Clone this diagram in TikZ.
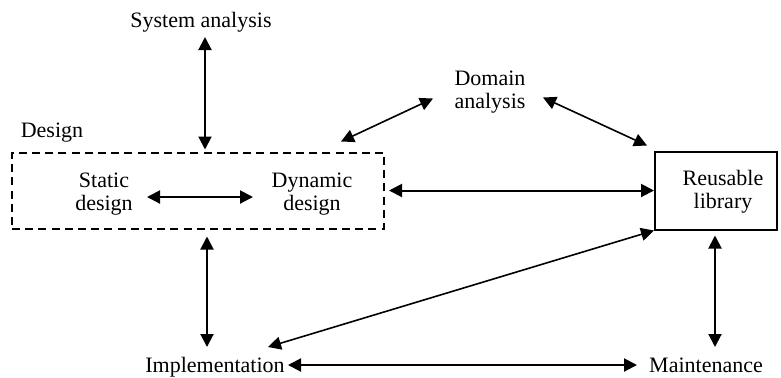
\documentclass[tikz,border=0pt]{standalone}
\usepackage{fontspec}
\setmainfont{Liberation Serif}
\usetikzlibrary{arrows.meta}
\begin{document}
\begin{tikzpicture}[x=0.5pt,y=-0.5pt,
  font=\fontsize{11}{11.5}\selectfont,
  lbl/.style={inner sep=0pt, anchor=base},
  mlbl/.style={inner sep=0pt, align=center},
  arr/.style={{Triangle[length=6.5pt,width=6.5pt]}-{Triangle[length=6.5pt,width=6.5pt]}, line width=1pt},
  darr/.style={arr, line width=0.8pt},
  dashbox/.style={draw, dashed, dash pattern=on 4pt off 2.6pt, line width=1pt, inner sep=0pt, minimum width=186pt, minimum height=38pt},
  libbox/.style={draw, line width=1pt, inner sep=0pt, minimum width=61pt, minimum height=39pt}]
\useasboundingbox (0,0) rectangle (781,377);

\node[lbl] (sys) at (201,27) {System analysis};
\node[lbl] (dlabel) at (52,137) {Design};
\node[dashbox] (designbox) at (198,190.5) {};
\node[mlbl] (static) at (104,194) {Static\\design};
\node[mlbl] (dynamic) at (312,194) {Dynamic\\design};
\node[mlbl] (domain) at (490,92) {Domain\\analysis};
\node[libbox] (lib) at (716,190.5) {};
\node[mlbl] (libtext) at (723,192) {Reusable\\library};
\node[lbl] (impl) at (215,372) {Implementation};
\node[lbl] (maint) at (706,372) {Maintenance};

\draw[arr] ([xshift=2pt,yshift=-5pt]sys.base) -- ([xshift=3.5pt,yshift=1pt]designbox.north);
\draw[arr] ([xshift=21.5pt,yshift=-1.5pt]static.center) -- ([xshift=-29.5pt,yshift=-1.5pt]dynamic.center);
\draw[arr] ([xshift=2pt]designbox.east) -- (lib.west);
\draw[darr] ([xshift=-28.5pt,yshift=-3.25pt]domain.center) -- ([xshift=-22pt,yshift=5pt]designbox.north east);
\draw[darr] ([xshift=26.5pt,yshift=-2.75pt]domain.center) -- ([xshift=-3.5pt,yshift=2.5pt]lib.north west);
\draw[arr] ([xshift=4.5pt,yshift=-3.5pt]designbox.south) -- ([xshift=-4pt,yshift=12.5pt]impl.base);
\draw[darr] ([xshift=26.5pt,yshift=12.5pt]impl.base) -- (lib.south west);
\draw[arr] ([xshift=-0.5pt,yshift=-2.5pt]lib.south) -- ([xshift=4.5pt,yshift=12.5pt]maint.base);
\draw[arr] ([xshift=36.5pt,yshift=3.5pt]impl.base) -- ([xshift=-34.5pt,yshift=3.5pt]maint.base);
\end{tikzpicture}
\end{document}
